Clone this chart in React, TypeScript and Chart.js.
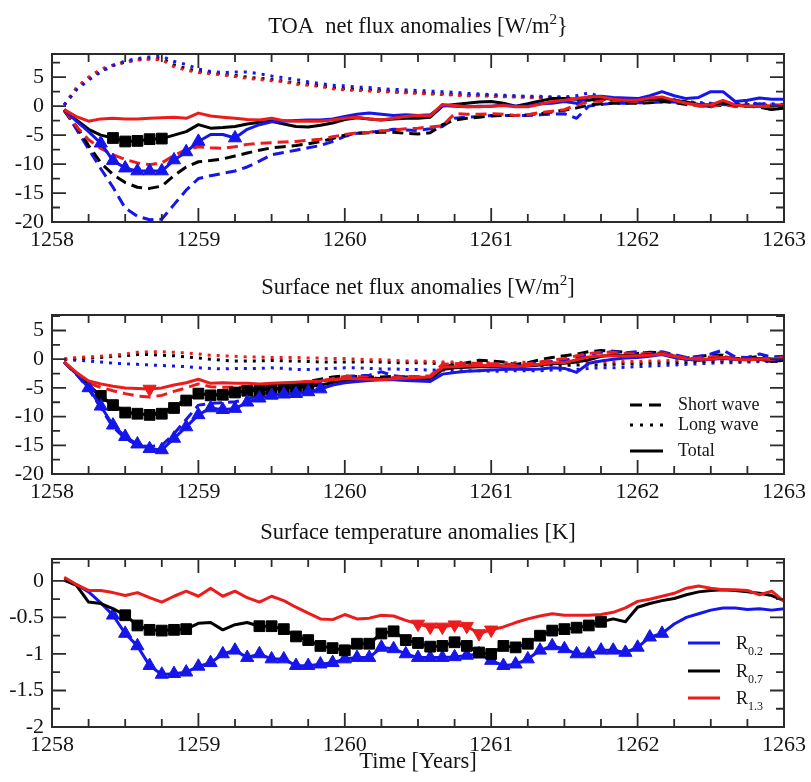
import React, { useEffect, useRef } from "react";
import { Chart, registerables } from "chart.js";

Chart.register(...registerables);

const FONT_FAMILY = "'Liberation Serif', 'Times New Roman', Times, serif";
const TEXT_COLOR = "#141414";
const AXIS_COLOR = "#2b2b2b";
const BLUE = "#1616ea";
const BLACK = "#000000";
const RED = "#ec1c1c";

const YEAR_START = 1258;
// month index of each sample (sample k sits at YEAR_START + k/12)
const MONTHS = [
  1, 2, 3, 4, 5, 6, 7, 8, 9, 10, 11, 12, 13, 14, 15, 16, 17, 18, 19, 20,
  21, 22, 23, 24, 25, 26, 27, 28, 29, 30, 31, 32, 33, 34, 35, 36, 37, 38, 39, 40,
  41, 42, 43, 44, 45, 46, 47, 48, 49, 50, 51, 52, 53, 54, 55, 56, 57, 58, 59, 60,
];
const X_TICKS = [1258, 1259, 1260, 1261, 1262, 1263];
const FLUX_Y_TICKS = [-20, -15, -10, -5, 0, 5];
const TEMP_Y_TICKS = [-2, -1.5, -1, -0.5, 0];

// ---------- TOA net flux anomalies [W/m2] ----------
const TOA_SW_BLUE = [-0.6,-4,-7.4,-10.8,-14,-17.6,-19,-19.6,-19.5,-17,-14.5,-12.5,-12,-11.6,-11.2,-10.5,-9.5,-8.4,-8,-7.6,-7.2,-6.8,-6.1,-5.2,-4.7,-4.5,-4.3,-4,-4.1,-4.2,-3.9,-3.5,-2.1,-1.9,-1.8,-1.6,-1.6,-1.6,-1.6,-1.5,-1.4,-1.3,-2.1,0,0.3,0.5,0.5,0.6,0.6,0.7,0.7,0.5,0.2,-0.1,0.3,0.1,0.2,0.4,0.2,0.2];
const TOA_SW_BLACK = [-0.8,-3.5,-6.8,-9.8,-11.8,-13.2,-14,-14.2,-13.8,-12,-10.5,-9.6,-9.4,-9.1,-8.6,-8.1,-7.6,-7.2,-7,-6.8,-6.5,-6.1,-5.6,-5,-4.7,-4.6,-4.5,-4.5,-4.7,-4.8,-4.6,-3.2,-2.4,-2.1,-1.9,-1.7,-1.6,-1.6,-1.5,-1.3,-1,-0.7,-0.3,0.2,0.4,0.5,0.5,0.5,0.6,0.8,0.6,0.3,0.1,0.2,0.1,0.3,0,-0.2,-0.6,-0.3];
const TOA_SW_RED = [-0.6,-3.5,-5.8,-7.3,-8.4,-9.2,-9.8,-10.1,-9.8,-8.5,-7.5,-7,-7.2,-7.3,-7,-6.6,-6.4,-6.3,-6.2,-6.1,-5.9,-5.7,-5.3,-4.9,-4.6,-4.5,-4.3,-4.1,-3.9,-3.8,-3.6,-3.4,-1.3,-1.4,-1.4,-1.3,-1.4,-1.6,-1.5,-1.1,-0.9,-0.6,0.2,0.8,0.9,1,0.9,0.8,1,1.2,1.1,0.5,0,-0.1,0.4,-0.1,0,-0.1,0.1,-0.1];
const TOA_LW_BLUE = [0.2,2.8,4.5,5.9,7,7.8,8.2,8.5,8.6,7.7,7.2,6.4,6,5.8,5.9,5.9,5.6,5.2,4.9,4.6,4.2,3.9,3.6,3.5,3.3,3.2,3,2.9,2.8,2.7,2.6,2.5,2.4,2.2,2.1,2,1.9,1.8,1.7,1.7,1.6,1.6,1.8,2.3,1.6,1.2,1,0.9,0.9,1,1.1,0.8,0.6,0.5,0.7,0.5,0.6,0.4,0.4,0.3];
const TOA_LW_BLACK = [0.2,3,4.8,6.1,7,7.6,8,8.2,8.2,7.1,6.5,6,5.8,5.5,5.3,5,4.8,4.6,4.3,4,3.8,3.5,3.2,3,2.9,2.8,2.7,2.5,2.4,2.3,2.2,2.1,2,1.9,1.9,1.8,1.7,1.6,1.6,1.5,1.5,1.4,1.4,1.3,1.2,1.1,1,1,0.9,0.9,0.9,0.7,0.5,0.4,0.5,0.3,0.3,0.2,0.1,0.1];
const TOA_LW_RED = [0.2,3.2,5,6.4,7.1,7.6,8,8.1,8,6.8,6.2,5.8,5.6,5.4,5.1,4.8,4.6,4.4,4.2,3.8,3.6,3.4,3,2.8,2.7,2.6,2.5,2.4,2.3,2.2,2.1,2,1.9,1.8,1.8,1.7,1.6,1.6,1.5,1.5,1.4,1.4,1.3,1.3,1.2,1.1,1,1,0.9,0.9,1,0.7,0.5,0.4,0.6,0.3,0.3,0.2,0.2,0.1];
const TOA_NET_BLUE = [-0.6,-2.6,-4.4,-6.4,-9.4,-10.7,-11.2,-11.2,-11.2,-9.3,-7.9,-6.1,-4.9,-4.9,-5.5,-4,-3.2,-2.7,-2.6,-2.5,-2.4,-2.4,-2.2,-1.8,-1.4,-1.2,-1.4,-1.6,-1.5,-1.6,-1.5,0.1,0,-0.1,0,0,0.2,0,0,0.4,0.5,0.8,0.5,1.6,1.7,1.5,1.4,1.3,1.8,2.5,1.8,1.3,1.5,2.5,2.5,0.8,1,1.4,1.2,1.2];
const TOA_NET_BLACK = [-0.6,-2.4,-4,-5,-5.5,-6.1,-6,-5.7,-5.6,-5,-4.4,-3.2,-3.8,-3.7,-3.5,-3.1,-2.8,-2.6,-3.1,-3.5,-3.6,-3.3,-2.9,-2.3,-2,-2.2,-2.4,-2.2,-2.1,-2.1,-1.9,0,0.3,0.5,0.7,0.8,0.5,0,0.4,0.9,1.3,1.3,1.2,1,1.4,1.2,1,1,1.2,1.2,1,0.7,0.3,0.2,0.6,0.2,0,0,-0.6,-0.3];
const TOA_NET_RED = [-0.6,-1.8,-2.6,-2.2,-2.1,-2.2,-2.2,-2.1,-2,-1.9,-2.1,-1.2,-1.7,-1.9,-2.1,-2.3,-2.4,-2.1,-2.5,-2.6,-2.6,-2.6,-2.4,-2.1,-1.9,-2.2,-2.4,-2.1,-1.8,-1.6,-1.7,0.3,0.1,-0.1,-0.1,0,0.1,-0.1,-0.1,0.3,0.8,1,1.3,1.6,1.6,1.2,1,1,1.4,1.6,1,0.5,0.2,0.2,1,0.2,0,0,-0.1,0.2];
const TOA_MARKS_BLUE = [4, 5, 6, 7, 8, 9, 10, 11, 12, 15];
const TOA_MARKS_BLACK = [5, 6, 7, 8, 9];

// ---------- Surface net flux anomalies [W/m2] ----------
const SFC_SW_BLUE = [-0.5,-2.6,-5.2,-8.5,-11.8,-13.8,-15,-15.2,-15,-13,-10.5,-8,-7.7,-7.6,-7.4,-7,-6.3,-5.6,-5,-4.7,-4.5,-4.2,-3.7,-3.1,-2.9,-2.8,-2.2,-2.9,-3.1,-3.1,-3.3,-1.3,-1.4,-1.2,-1.2,-1.1,-1.2,-1.1,-0.9,-0.6,-0.4,-0.2,0.3,0.8,1.2,1.3,1.1,1.3,1,1.3,0.8,0.3,0.5,0.9,1.6,0.4,0.3,0.9,0.4,0.5];
const SFC_SW_BLACK = [-0.5,-2.6,-4.7,-6.5,-8,-9,-9.5,-9.6,-9.3,-8.2,-7,-6,-6.2,-6,-5.7,-5.3,-5,-4.7,-4.5,-4.2,-3.9,-3.5,-3.1,-2.9,-3,-3.1,-3.1,-3,-3.1,-3.2,-3.2,-1.2,-1.1,-0.6,-0.2,-0.3,-0.5,-0.9,-0.6,-0.1,0.3,0.6,0.9,1.3,1.5,1.4,1.2,1,1.2,1.1,0.6,0.2,0.4,0.8,0.7,0.1,0.2,0.5,0,0.2];
const SFC_SW_RED = [-0.5,-2.5,-4.2,-4.9,-5.5,-6,-6.4,-6.6,-6.3,-5.6,-5,-4.3,-4.8,-4.9,-4.9,-4.8,-4.6,-4.5,-4.3,-4.2,-4,-3.8,-3.4,-3,-3,-3.2,-3.4,-3.2,-3,-3,-2.9,-0.9,-0.8,-0.7,-0.7,-0.8,-0.8,-1,-0.8,-0.5,-0.1,0.1,0.6,1,1.2,1.2,1,0.9,1,1.1,0.6,0.1,0.2,0.4,0.5,0.1,0,0.1,0.1,0.2];
const SFC_LW_BLUE = [0,-0.2,-0.3,-0.5,-0.7,-0.8,-0.9,-1,-1.1,-1.2,-1.3,-1.5,-1.6,-1.7,-1.6,-1.6,-1.6,-1.5,-1.6,-1.8,-1.8,-1.7,-1.6,-1.5,-1.5,-1.6,-1.7,-1.7,-1.8,-1.8,-1.9,-1.9,-2,-2,-2,-2.1,-2.1,-2,-2,-2,-1.9,-1.9,-1.8,-1.6,-1.5,-1.5,-1.4,-1.3,-1.2,-1.1,-1,-0.9,-0.8,-0.7,-0.6,-0.6,-0.5,-0.4,-0.4,-0.3];
const SFC_LW_BLACK = [0,0.1,0.2,0.3,0.5,0.6,0.8,0.8,0.7,0.6,0.4,0.2,0,-0.2,-0.3,-0.3,-0.3,-0.2,-0.3,-0.3,-0.4,-0.5,-0.5,-0.5,-0.5,-0.4,-0.5,-0.6,-0.6,-0.6,-0.7,-0.8,-0.8,-0.9,-0.9,-1,-1,-1,-1.1,-1.1,-1,-1.1,-1,-1,-1,-0.9,-0.8,-0.8,-0.7,-0.6,-0.6,-0.5,-0.4,-0.4,-0.3,-0.3,-0.3,-0.2,-0.3,-0.2];
const SFC_LW_RED = [0,0.3,0.4,0.5,0.7,0.9,1.2,1.3,1.3,1.2,1.1,0.9,0.7,0.6,0.5,0.4,0.4,0.3,0.3,0.3,0.2,0.2,0.1,0.1,0,-0.1,-0.1,-0.2,-0.3,-0.3,-0.4,-0.5,-0.5,-0.6,-0.6,-0.6,-0.6,-0.6,-0.5,-0.5,-0.6,-0.6,-0.5,-0.4,-0.5,-0.5,-0.4,-0.4,-0.3,-0.3,-0.2,-0.2,-0.2,-0.1,-0.1,-0.1,-0.1,0,0,0.1];
const SFC_NET_BLUE = [-0.5,-2.5,-5,-8.2,-11.5,-13.5,-14.8,-15.6,-15.8,-13.8,-11.8,-9.7,-8.5,-8.8,-8.6,-7.5,-6.8,-6.3,-6.1,-6,-5.7,-5.2,-4.5,-4.1,-3.9,-3.7,-3.6,-3.6,-3.7,-3.8,-3.9,-2.6,-2.3,-2.1,-2,-1.9,-1.8,-1.7,-1.8,-1.7,-1.5,-1.6,-2.3,-0.7,-0.3,0,0.2,0.3,0.5,0.8,0.3,0,-0.1,0,0.1,0,0.1,0.1,-0.1,0.1];
const SFC_NET_BLACK = [-0.5,-2.5,-4.5,-6.4,-8,-9.3,-9.5,-9.7,-9.5,-8.5,-7.2,-6,-6.3,-6.2,-5.8,-5.5,-5.5,-5.2,-5,-4.9,-4.8,-4.5,-4.1,-3.7,-3.5,-3.4,-3.4,-3.5,-3.5,-3.6,-3.5,-1.8,-1.5,-1.4,-1.3,-1.3,-1.2,-1.3,-1.2,-1,-0.8,-0.7,-0.5,-0.1,0.5,0.7,0.6,0.6,0.8,0.9,0.5,0,-0.2,0,0.3,0,-0.1,0,-0.4,-0.2];
const SFC_NET_RED = [-0.5,-2.3,-3.8,-4.3,-4.7,-5,-5.1,-5.2,-5,-4.5,-4.1,-3.5,-4.2,-4.1,-4.2,-4.2,-4.3,-4.2,-4.1,-4,-3.9,-3.8,-3.6,-3.4,-3.4,-3.5,-3.6,-3.4,-3.3,-3.2,-3.1,-1.4,-1.3,-1.2,-1.1,-1.1,-1.2,-1.3,-1.1,-0.9,-0.6,-0.6,-0.1,0.4,0.6,0.6,0.5,0.6,0.7,0.9,0.5,0.1,0,0,0.3,0,-0.1,0,0,0.3];
const SFC_MARKS_BLUE = [3, 4, 5, 6, 7, 8, 9, 10, 11, 12, 13, 14, 15, 16, 17, 18, 19, 20, 21, 22];
const SFC_MARKS_BLACK = [4, 5, 6, 7, 8, 9, 10, 11, 12, 13, 14, 15, 16, 17, 18, 19, 20, 21];
const SFC_MARKS_RED = [8];

// ---------- Surface temperature anomalies [K] ----------
const TEMP_BLUE = [0.01,-0.05,-0.15,-0.3,-0.47,-0.72,-0.89,-1.16,-1.28,-1.27,-1.25,-1.17,-1.12,-1,-0.95,-1.05,-1,-1.07,-1.07,-1.16,-1.16,-1.14,-1.12,-1.07,-1.05,-1.05,-0.91,-0.93,-1,-1.05,-1.05,-1.05,-1.04,-1.02,-1,-1.09,-1.16,-1.14,-1.07,-0.95,-0.89,-0.93,-1,-1,-0.95,-0.95,-0.98,-0.91,-0.77,-0.72,-0.59,-0.5,-0.45,-0.4,-0.37,-0.37,-0.39,-0.38,-0.4,-0.38];
const TEMP_BLACK = [0.01,-0.06,-0.29,-0.31,-0.38,-0.47,-0.61,-0.67,-0.68,-0.67,-0.66,-0.58,-0.57,-0.67,-0.6,-0.57,-0.62,-0.62,-0.66,-0.76,-0.81,-0.89,-0.92,-0.95,-0.86,-0.86,-0.72,-0.69,-0.81,-0.85,-0.9,-0.89,-0.84,-0.89,-0.98,-1,-0.89,-0.91,-0.86,-0.75,-0.68,-0.66,-0.64,-0.61,-0.56,-0.52,-0.56,-0.36,-0.31,-0.27,-0.24,-0.19,-0.15,-0.13,-0.12,-0.13,-0.15,-0.17,-0.2,-0.27];
const TEMP_RED = [0.05,-0.05,-0.13,-0.13,-0.16,-0.2,-0.16,-0.23,-0.29,-0.21,-0.14,-0.21,-0.1,-0.21,-0.14,-0.23,-0.29,-0.21,-0.27,-0.36,-0.44,-0.52,-0.53,-0.46,-0.52,-0.51,-0.47,-0.48,-0.54,-0.59,-0.63,-0.63,-0.6,-0.62,-0.72,-0.67,-0.63,-0.57,-0.52,-0.48,-0.45,-0.47,-0.47,-0.47,-0.46,-0.43,-0.37,-0.28,-0.25,-0.21,-0.17,-0.1,-0.07,-0.1,-0.12,-0.12,-0.13,-0.19,-0.14,-0.28];
const TEMP_MARKS_BLUE = [5,6,7,8,9,10,11,12,13,14,15,16,17,18,19,20,21,22,23,24,25,26,27,28,29,30,31,32,33,34,35,36,37,38,39,40,41,42,43,44,45,46,47,48,49,50];
const TEMP_MARKS_BLACK = [6,7,8,9,10,11,17,18,19,20,21,22,23,24,25,26,27,28,29,30,31,32,33,34,35,36,37,38,39,40,41,42,43,44,45];
const TEMP_MARKS_RED = [30, 31, 32, 33, 34, 35, 36];

// ---------- legends ----------
const STYLE_LEGEND_LABELS = ["Short wave", "Long wave", "Total"];
const RUN_LEGEND_BASE = ["R", "R", "R"];
const RUN_LEGEND_SUB = ["0.2", "0.7", "1.3"];
const RUN_LEGEND_COLORS = [BLUE, BLACK, RED];

type LineStyle = "dash" | "dot" | "solid";
type Marker = "up" | "down" | "square";
type Series = { values: number[]; color: string; style: LineStyle; marks?: number[]; marker?: Marker };
type TitlePart = { text: string; sup?: boolean };
type PanelSpec = {
  title: TitlePart[];
  titleBaseline: number;
  canvasTop: number;
  canvasHeight: number;
  padTop: number;
  padBottom: number;
  yMin: number;
  yMax: number;
  yTicks: number[];
  yMinor: number;
  series: Series[];
  legend: "styles" | "runs" | "none";
  xTitle?: string;
  xTitleBaseline?: number;
};

const DASHES: Record<LineStyle, number[]> = { dash: [11, 6], dot: [3, 6], solid: [] };

const PANELS: PanelSpec[] = [
  {
    title: [{ text: "TOA  net flux anomalies [W/m" }, { text: "2", sup: true }, { text: "}" }],
    titleBaseline: 33,
    canvasTop: 0,
    canvasHeight: 260,
    padTop: 54,
    padBottom: 8,
    yMin: -20,
    yMax: 9,
    yTicks: FLUX_Y_TICKS,
    yMinor: 2.5,
    legend: "none",
    series: [
      { values: TOA_LW_BLACK, color: BLACK, style: "dot" },
      { values: TOA_LW_RED, color: RED, style: "dot" },
      { values: TOA_LW_BLUE, color: BLUE, style: "dot" },
      { values: TOA_SW_BLUE, color: BLUE, style: "dash" },
      { values: TOA_SW_BLACK, color: BLACK, style: "dash" },
      { values: TOA_SW_RED, color: RED, style: "dash" },
      { values: TOA_NET_BLACK, color: BLACK, style: "solid", marks: TOA_MARKS_BLACK, marker: "square" },
      { values: TOA_NET_BLUE, color: BLUE, style: "solid", marks: TOA_MARKS_BLUE, marker: "up" },
      { values: TOA_NET_RED, color: RED, style: "solid" },
    ],
  },
  {
    title: [{ text: "Surface net flux anomalies [W/m" }, { text: "2", sup: true }, { text: "]" }],
    titleBaseline: 34,
    canvasTop: 260,
    canvasHeight: 260,
    padTop: 55,
    padBottom: 16,
    yMin: -20,
    yMax: 7.7,
    yTicks: FLUX_Y_TICKS,
    yMinor: 2.5,
    legend: "styles",
    series: [
      { values: SFC_LW_BLUE, color: BLUE, style: "dot" },
      { values: SFC_LW_BLACK, color: BLACK, style: "dot" },
      { values: SFC_LW_RED, color: RED, style: "dot" },
      { values: SFC_SW_BLACK, color: BLACK, style: "dash" },
      { values: SFC_SW_BLUE, color: BLUE, style: "dash" },
      { values: SFC_SW_RED, color: RED, style: "dash" },
      { values: SFC_NET_BLACK, color: BLACK, style: "solid", marks: SFC_MARKS_BLACK, marker: "square" },
      { values: SFC_NET_BLUE, color: BLUE, style: "solid", marks: SFC_MARKS_BLUE, marker: "up" },
      { values: SFC_NET_RED, color: RED, style: "solid", marks: SFC_MARKS_RED, marker: "down" },
    ],
  },
  {
    title: [{ text: "Surface temperature anomalies [K]" }],
    titleBaseline: 19,
    canvasTop: 520,
    canvasHeight: 262,
    padTop: 39,
    padBottom: 25,
    yMin: -2,
    yMax: 0.3,
    yTicks: TEMP_Y_TICKS,
    yMinor: 0.25,
    legend: "runs",
    xTitle: "Time [Years]",
    xTitleBaseline: 248,
    series: [
      { values: TEMP_BLUE, color: BLUE, style: "solid", marks: TEMP_MARKS_BLUE, marker: "up" },
      { values: TEMP_BLACK, color: BLACK, style: "solid", marks: TEMP_MARKS_BLACK, marker: "square" },
      { values: TEMP_RED, color: RED, style: "solid", marks: TEMP_MARKS_RED, marker: "down" },
    ],
  },
];

const TITLE_SIZE = 22.5;
const TICK_SIZE = 22;

function font(size: number) {
  return `${size}px ${FONT_FAMILY}`;
}

function buildDataset(s: Series) {
  const marks = s.marks || [];
  const radius = 7.6;
  return {
    data: MONTHS.map((m, i) => ({ x: YEAR_START + m / 12, y: s.values[i] })),
    borderColor: s.color,
    backgroundColor: s.color,
    borderWidth: 3,
    borderDash: DASHES[s.style],
    borderCapStyle: "butt" as const,
    borderJoinStyle: "round" as const,
    tension: 0,
    fill: false,
    pointRadius: MONTHS.map((m) => (marks.includes(m) ? radius : 0)),
    pointHoverRadius: 0,
    pointStyle: s.marker === "square" ? "rect" : "triangle",
    pointRotation: s.marker === "down" ? 180 : 0,
    pointBackgroundColor: s.color,
    pointBorderColor: s.color,
    pointBorderWidth: 1,
  };
}

function isMultiple(v: number, step: number) {
  const r = v / step;
  return Math.abs(r - Math.round(r)) < 1e-6;
}

function makeDecorPlugin(spec: PanelSpec) {
  return {
    id: "decor",
    afterDraw(chart: any) {
      const { ctx, chartArea, scales } = chart;
      const { left, right, top, bottom } = chartArea;
      const xs = scales.x;
      const ys = scales.y;
      ctx.save();

      // frame
      ctx.strokeStyle = AXIS_COLOR;
      ctx.lineWidth = 2;
      ctx.strokeRect(left, top, right - left, bottom - top);

      // inward ticks, x
      ctx.lineWidth = 1.8;
      ctx.beginPath();
      for (let v = X_TICKS[0]; v <= X_TICKS[X_TICKS.length - 1] + 1e-9; v += 0.25) {
        const px = xs.getPixelForValue(v);
        const len = isMultiple(v, 1) ? 14 : 8;
        ctx.moveTo(px, bottom);
        ctx.lineTo(px, bottom - len);
        ctx.moveTo(px, top);
        ctx.lineTo(px, top + len);
      }
      // inward ticks, y
      const majorStep = spec.yTicks[1] - spec.yTicks[0];
      const first = Math.ceil(spec.yMin / spec.yMinor - 1e-9) * spec.yMinor;
      for (let v = first; v <= spec.yMax + 1e-9; v += spec.yMinor) {
        const py = ys.getPixelForValue(v);
        const len = isMultiple(v, majorStep) ? 14 : 8;
        ctx.moveTo(left, py);
        ctx.lineTo(left + len, py);
        ctx.moveTo(right, py);
        ctx.lineTo(right - len, py);
      }
      ctx.stroke();

      // title with optional superscript
      const supSize = 15;
      const cx = (left + right) / 2;
      const widths = spec.title.map((p) => {
        ctx.font = font(p.sup ? supSize : TITLE_SIZE);
        return ctx.measureText(p.text).width;
      });
      const total = widths.reduce((a, b) => a + b, 0);
      let x = cx - total / 2;
      ctx.fillStyle = TEXT_COLOR;
      ctx.textBaseline = "alphabetic";
      ctx.textAlign = "left";
      spec.title.forEach((p, i) => {
        ctx.font = font(p.sup ? supSize : TITLE_SIZE);
        ctx.fillText(p.text, x, p.sup ? spec.titleBaseline - 9 : spec.titleBaseline);
        x += widths[i];
      });

      if (spec.xTitle) {
        ctx.font = font(TITLE_SIZE);
        ctx.textAlign = "center";
        ctx.fillText(spec.xTitle, cx, spec.xTitleBaseline as number);
      }

      // legends
      if (spec.legend === "styles") {
        const rows = [bottom - 69, bottom - 49, bottom - 23];
        const dashes = [[12, 7], [3, 7], []];
        STYLE_LEGEND_LABELS.forEach((label, i) => {
          ctx.beginPath();
          ctx.strokeStyle = BLACK;
          ctx.lineWidth = 3;
          ctx.setLineDash(dashes[i]);
          ctx.moveTo(right - 154, rows[i]);
          ctx.lineTo(right - 121, rows[i]);
          ctx.stroke();
          ctx.setLineDash([]);
          ctx.font = font(18);
          ctx.textAlign = "left";
          ctx.textBaseline = "middle";
          ctx.fillStyle = TEXT_COLOR;
          ctx.fillText(label, right - 106, rows[i]);
        });
      }
      if (spec.legend === "runs") {
        const rows = [bottom - 84, bottom - 56, bottom - 29];
        RUN_LEGEND_BASE.forEach((base, i) => {
          ctx.beginPath();
          ctx.strokeStyle = RUN_LEGEND_COLORS[i];
          ctx.lineWidth = 3;
          ctx.setLineDash([]);
          ctx.moveTo(right - 96, rows[i]);
          ctx.lineTo(right - 64, rows[i]);
          ctx.stroke();
          ctx.fillStyle = TEXT_COLOR;
          ctx.textAlign = "left";
          ctx.textBaseline = "alphabetic";
          ctx.font = font(18);
          ctx.fillText(base, right - 48, rows[i] + 6);
          const w = ctx.measureText(base).width;
          ctx.font = font(12);
          ctx.fillText(RUN_LEGEND_SUB[i], right - 48 + w, rows[i] + 12);
        });
      }
      ctx.restore();
    },
  };
}

function buildConfig(spec: PanelSpec): any {
  const datasets = spec.series.map(buildDataset).reverse();
  return {
    type: "line",
    data: { datasets },
    options: {
      responsive: false,
      animation: false,
      devicePixelRatio: 1,
      events: [],
      layout: { padding: { top: spec.padTop, bottom: spec.padBottom, left: 0, right: 25 } },
      plugins: { legend: { display: false }, title: { display: false }, tooltip: { enabled: false } },
      scales: {
        x: {
          type: "linear",
          min: X_TICKS[0],
          max: X_TICKS[X_TICKS.length - 1],
          afterBuildTicks: (s: any) => {
            s.ticks = X_TICKS.map((v) => ({ value: v }));
          },
          afterFit: (s: any) => {
            s.height = 30;
          },
          ticks: {
            callback: (v: any) => String(v),
            font: { family: FONT_FAMILY, size: TICK_SIZE },
            color: TEXT_COLOR,
            padding: 5,
            maxRotation: 0,
            autoSkip: false,
          },
          grid: { display: false, drawTicks: false },
          border: { display: false },
        },
        y: {
          type: "linear",
          min: spec.yMin,
          max: spec.yMax,
          afterBuildTicks: (s: any) => {
            s.ticks = spec.yTicks.map((v) => ({ value: v }));
          },
          afterFit: (s: any) => {
            s.width = 52;
          },
          ticks: {
            callback: (v: any) => String(v),
            font: { family: FONT_FAMILY, size: TICK_SIZE },
            color: TEXT_COLOR,
            padding: 8,
            autoSkip: false,
          },
          grid: { display: false, drawTicks: false },
          border: { display: false },
        },
      },
    },
    plugins: [makeDecorPlugin(spec)],
  };
}

function Panel({ spec }: { spec: PanelSpec }) {
  const ref = useRef<HTMLCanvasElement | null>(null);
  useEffect(() => {
    if (!ref.current) return;
    const chart = new Chart(ref.current, buildConfig(spec));
    return () => chart.destroy();
  }, [spec]);
  return (
    <canvas
      ref={ref}
      width={811}
      height={spec.canvasHeight}
      style={{ position: "absolute", left: 0, top: spec.canvasTop, width: 811, height: spec.canvasHeight }}
    />
  );
}

export default function App() {
  return (
    <div
      style={{
        position: "fixed",
        left: 0,
        top: 0,
        width: 811,
        height: 782,
        background: "#ffffff",
        overflow: "hidden",
      }}
    >
      {PANELS.map((p, i) => (
        <Panel key={i} spec={p} />
      ))}
    </div>
  );
}
